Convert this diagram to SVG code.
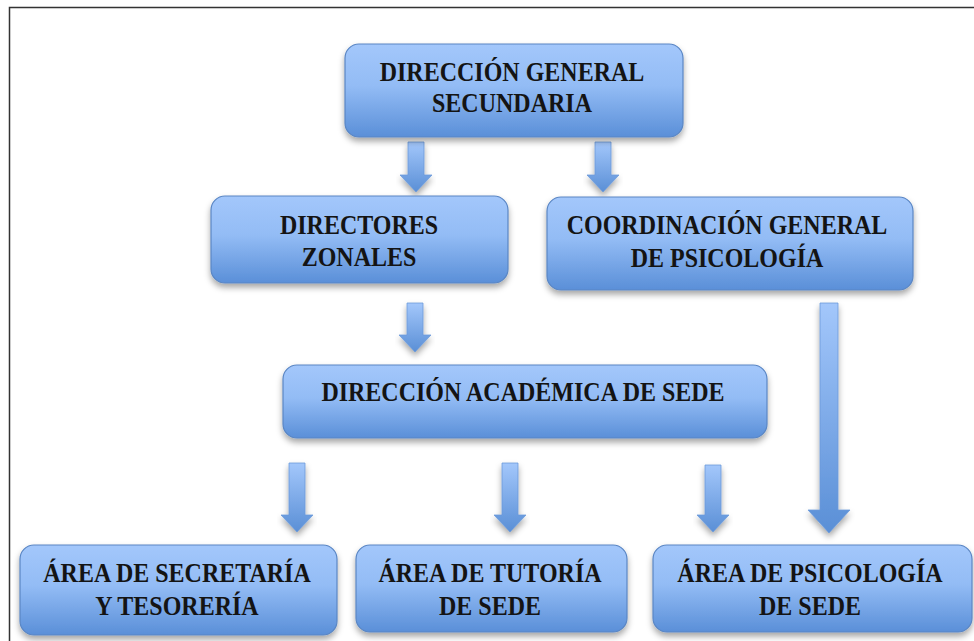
<svg xmlns="http://www.w3.org/2000/svg" width="974" height="641" viewBox="0 0 974 641">
<defs>
<linearGradient id="boxg" x1="0" y1="0" x2="0" y2="1">
<stop offset="0" stop-color="#a3c7fb"/>
<stop offset="0.45" stop-color="#93bcf5"/>
<stop offset="1" stop-color="#5a8fd8"/>
</linearGradient>
<linearGradient id="arrg" x1="0" y1="0" x2="0" y2="1">
<stop offset="0" stop-color="#a3c7fb"/>
<stop offset="1" stop-color="#5a8fd6"/>
</linearGradient>
<linearGradient id="arrh" x1="0" y1="0" x2="1" y2="0">
<stop offset="0" stop-color="#5d92da"/>
<stop offset="0.5" stop-color="#9cc2f7"/>
<stop offset="1" stop-color="#5d92da"/>
</linearGradient>
<filter id="sh" x="-10%" y="-20%" width="120%" height="150%">
<feDropShadow dx="0" dy="4" stdDeviation="3" flood-color="#000" flood-opacity="0.35"/>
</filter>
</defs>
<style>
.box{fill:url(#boxg);stroke:#5a86c4;stroke-width:1.2;filter:url(#sh)}
.arr{fill:url(#arrg);stroke:#6d9bd9;stroke-width:0.8;filter:url(#sh)}
.t{font-family:"Liberation Serif","Times New Roman",serif;font-weight:bold;font-size:24px;fill:#141414;text-anchor:middle}
</style>
<rect x="0" y="0" width="974" height="641" fill="#fff"/>
<path d="M9.5 641 V7.5 H974" fill="none" stroke="#333" stroke-width="1.5"/>

<g id="connectors">
<path class="arr" d="M408 142 H424 V175 H432 L416 192 L400 175 H408 Z"/>
<path class="arr" d="M595 142 H611 V175 H619 L603 192 L587 175 H595 Z"/>
<path class="arr" d="M407 303 H423 V335 H431 L415 352 L399 335 H407 Z"/>
<path class="arr" d="M289 463 H305 V515 H313 L297 532 L281 515 H289 Z"/>
<path class="arr" d="M502 463 H518 V515 H526 L510 532 L494 515 H502 Z"/>
<path class="arr" d="M705 465 H721 V515 H729 L713 532 L697 515 H705 Z"/>
<path class="arr" d="M820 303 H838 V510 H850 L829 533 L808 510 H820 Z"/>
</g>

<g id="n1">
<rect class="box" x="345" y="44" width="338" height="93" rx="14"/>
<text class="t" transform="translate(512,81) scale(1,1.1)">DIRECCIÓN GENERAL</text>
<text class="t" transform="translate(512,112) scale(1,1.1)">SECUNDARIA</text>
</g>
<g id="n2">
<rect class="box" x="211" y="196" width="297" height="87" rx="14"/>
<text class="t" transform="translate(359,234) scale(1,1.1)">DIRECTORES</text>
<text class="t" transform="translate(359,266) scale(1,1.1)">ZONALES</text>
</g>
<g id="n3">
<rect class="box" x="547" y="197" width="366" height="93" rx="14"/>
<text class="t" transform="translate(727,234) scale(1,1.1)">COORDINACIÓN GENERAL</text>
<text class="t" transform="translate(727,267) scale(1,1.1)">DE PSICOLOGÍA</text>
</g>
<g id="n4">
<rect class="box" x="283" y="365" width="484" height="73" rx="14"/>
<text class="t" transform="translate(523,401) scale(1,1.1)">DIRECCIÓN ACADÉMICA DE SEDE</text>
</g>
<g id="n5">
<rect class="box" x="20" y="545" width="317" height="90" rx="14"/>
<text class="t" transform="translate(177,582) scale(1,1.1)">ÁREA DE SECRETARÍA</text>
<text class="t" transform="translate(177,615) scale(1,1.1)">Y TESORERÍA</text>
</g>
<g id="n6">
<rect class="box" x="356" y="545" width="271" height="87" rx="14"/>
<text class="t" transform="translate(490,582) scale(1,1.1)">ÁREA DE TUTORÍA</text>
<text class="t" transform="translate(490,615) scale(1,1.1)">DE SEDE</text>
</g>
<g id="n7">
<rect class="box" x="653" y="545" width="319" height="87" rx="14"/>
<text class="t" transform="translate(810,582) scale(1,1.1)">ÁREA DE PSICOLOGÍA</text>
<text class="t" transform="translate(810,615) scale(1,1.1)">DE SEDE</text>
</g>
</svg>
